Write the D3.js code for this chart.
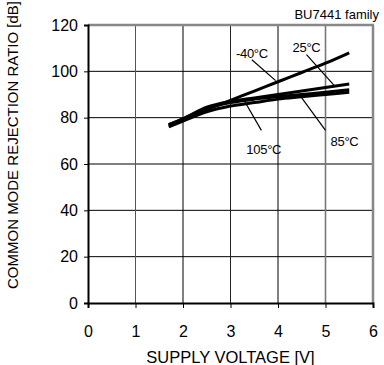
<!DOCTYPE html>
<html><head><meta charset="utf-8">
<script src="https://cdn.jsdelivr.net/npm/d3@7"></script>
<style>body{margin:0;background:#fff}svg{display:block;font-family:"Liberation Sans",Arial,sans-serif}</style>
</head><body><svg id="c" width="384" height="365"></svg>
<script>
const xTicks = [0,1,2,3,4,5,6];
const yTicks = [0,20,40,60,80,100,120];
const voltage = [1.7,2,2.5,3,3.5,4,4.5,5,5.5];
const cmrrM40 = [76.5,79,83.5,87.5,91.5,95.5,99.5,103.5,108];
const cmrr25  = [77,79.5,84.5,87,88.5,90,91.5,93,94.5];
const cmrr85  = [77,79.5,84,86.5,88,89,90,91,92];
const cmrr105 = [76,78.5,82.5,85,86.5,88,89,90,91];
const seriesNames = ["-40°C","25°C","85°C","105°C"];
// label positions in data coords: [labelX,labelY, leaderFromX,fromY, toX,toY]
const labelPos = [
  [3.45,107.8, 3.45,105, 3.95,96],
  [4.6,110.5, 4.6,107.2, 5.2,93.5],
  [5.4,70, 5.0,74.5, 4.5,88.5],
  [3.7,66.5, 3.65,74.5, 3.3,87]
];

const svg = d3.select("#c");
const x = d3.scaleLinear().domain([0,6]).range([88,373]);
const y = d3.scaleLinear().domain([0,120]).range([303,25]);
const FF = "Liberation Sans, Arial, sans-serif";

// horizontal grid
svg.append("g").selectAll("line").data(yTicks.filter(d=>d>0&&d<120)).join("line")
  .attr("x1",x(0)).attr("x2",x(6)).attr("y1",d=>y(d)).attr("y2",d=>y(d))
  .attr("stroke","#000").attr("stroke-width",1);
// vertical grid
const vColor = {1:"#555",2:"#000",3:"#222",4:"#000",5:"#777"};
const vW = {1:1,2:1,3:1,4:1,5:1.6};
svg.append("g").selectAll("line").data(xTicks.filter(d=>d>0&&d<6)).join("line")
  .attr("y1",y(0)).attr("y2",y(120)).attr("x1",d=>x(d)).attr("x2",d=>x(d))
  .attr("stroke",d=>vColor[d]).attr("stroke-width",d=>vW[d]);
// top & right border
svg.append("line").attr("x1",x(0)).attr("x2",x(6)+1).attr("y1",y(120)).attr("y2",y(120)).attr("stroke","#888").attr("stroke-width",2.5);
svg.append("line").attr("x1",x(6)).attr("x2",x(6)).attr("y1",y(120)).attr("y2",y(0)).attr("stroke","#888").attr("stroke-width",2.5);

// axes
const yAxis = d3.axisLeft(y).tickValues(yTicks).tickSize(4).tickPadding(6).tickFormat(d3.format("d"));
const gy = svg.append("g").attr("transform",`translate(${x(0)},0)`).call(yAxis);
gy.select(".domain").attr("stroke","#000").attr("stroke-width",2);
gy.selectAll(".tick line").attr("stroke","#000");
gy.selectAll("text").attr("font-size",16).attr("fill","#000").attr("font-family",FF);

const xAxis = d3.axisBottom(x).tickValues(xTicks).tickSize(5).tickPadding(18).tickFormat(d3.format("d"));
const gx = svg.append("g").attr("transform",`translate(0,${y(0)})`).call(xAxis);
gx.select(".domain").attr("stroke","#000").attr("stroke-width",2);
gx.selectAll(".tick line").attr("stroke","#000");
gx.selectAll("text").attr("font-size",16).attr("fill","#000").attr("font-family",FF);

// titles
svg.append("text").attr("x",x(3)).attr("y",363).attr("text-anchor","middle").attr("font-size",16.5).attr("font-family",FF).text("SUPPLY VOLTAGE [V]");
svg.append("text").attr("transform","translate(18,145) rotate(-90)").attr("text-anchor","middle").attr("font-size",15).attr("font-family",FF).text("COMMON MODE REJECTION RATIO [dB]");
svg.append("text").attr("x",379).attr("y",19).attr("text-anchor","end").attr("font-size",13).attr("font-family",FF).text("BU7441 family");

// curves
const allSeries = [cmrrM40,cmrr25,cmrr85,cmrr105];
const line = d3.line().x(d=>x(d[0])).y(d=>y(d[1])).curve(d3.curveMonotoneX);
svg.append("g").selectAll("path").data(allSeries).join("path")
  .attr("d",s=>line(voltage.map((v,i)=>[v,s[i]])))
  .attr("fill","none").attr("stroke","#000").attr("stroke-width",3);

// labels
const lg = svg.append("g");
labelPos.forEach((p,i)=>{
  lg.append("line").attr("x1",x(p[2])).attr("y1",y(p[3])).attr("x2",x(p[4])).attr("y2",y(p[5])).attr("stroke","#000").attr("stroke-width",1.2);
  lg.append("text").attr("x",x(p[0])).attr("y",y(p[1])+5).attr("text-anchor","middle").attr("font-size",13).attr("font-family",FF).attr("letter-spacing",-0.3).text(seriesNames[i]);
});
</script></body></html>
